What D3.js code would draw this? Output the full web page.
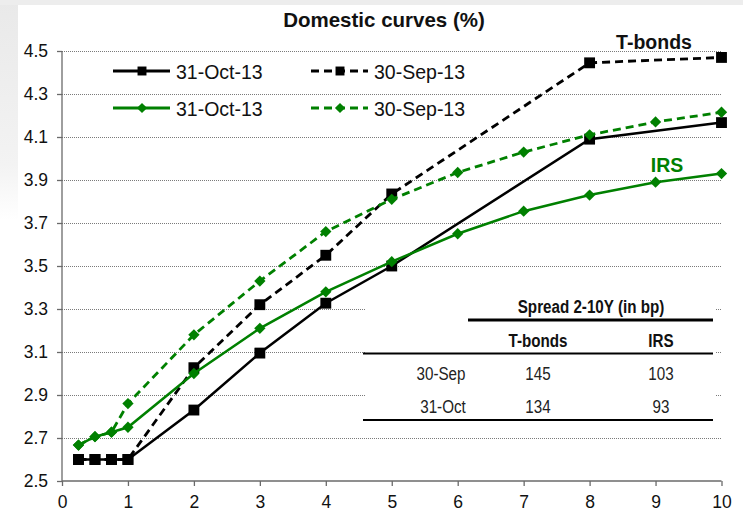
<!DOCTYPE html>
<html><head><meta charset="utf-8">
<script src="https://cdn.jsdelivr.net/npm/d3@7"></script>
<style>
html,body{margin:0;padding:0;background:#fff;}
svg{display:block;}
text{font-family:"Liberation Sans",Arial,sans-serif;}
</style></head>
<body>
<svg id="chart" width="743" height="512"></svg>
<script>
// ---- data ----
const bondMaturities = [0.25, 0.5, 0.75, 1, 2, 3, 4, 5, 8, 10];
const tbondsOct = [2.60, 2.60, 2.60, 2.60, 2.83, 3.095, 3.327, 3.50, 4.09, 4.167];
const tbondsSep = [2.60, 2.60, 2.60, 2.60, 3.027, 3.32, 3.55, 3.835, 4.445, 4.47];
const irsMaturities = [0.25, 0.5, 0.75, 1, 2, 3, 4, 5, 6, 7, 8, 9, 10];
const irsOct = [2.667, 2.706, 2.727, 2.75, 3.00, 3.21, 3.38, 3.52, 3.65, 3.755, 3.83, 3.89, 3.93];
const irsSep = [2.667, 2.706, 2.727, 2.86, 3.18, 3.43, 3.66, 3.81, 3.935, 4.03, 4.11, 4.17, 4.215];
const xTicks = [0, 1, 2, 3, 4, 5, 6, 7, 8, 9, 10];
const yTicks = [2.5, 2.7, 2.9, 3.1, 3.3, 3.5, 3.7, 3.9, 4.1, 4.3, 4.5];
const legendLabels = ["31-Oct-13", "30-Sep-13"];
const title = "Domestic curves (%)";
const tableTitle = "Spread 2-10Y (in bp)";
const tableHeaders = ["T-bonds", "IRS"];
const tableRowLabels = ["30-Sep", "31-Oct"];
const tableTbonds = [145, 134];
const tableIrs = [103, 93];

const GREEN = "#008000";
const svg = d3.select("#chart");

// background
const defs = svg.append("defs");
const lg = defs.append("linearGradient").attr("id","side").attr("x1",0).attr("y1",0).attr("x2",0).attr("y2",1);
lg.append("stop").attr("offset","0%").attr("stop-color","#e9e9e9");
lg.append("stop").attr("offset","75%").attr("stop-color","#f3f3f3");
lg.append("stop").attr("offset","100%").attr("stop-color","#ffffff");
svg.append("rect").attr("x",0).attr("y",0).attr("width",743).attr("height",512).attr("fill","#fff");
svg.append("rect").attr("x",0).attr("y",0).attr("width",18).attr("height",220).attr("fill","url(#side)");
svg.append("rect").attr("x",0).attr("y",0).attr("width",743).attr("height",5).attr("fill","#ededed");

const x = d3.scaleLinear().domain([0, 10]).range([62, 721.5]);
const y = d3.scaleLinear().domain([2.5, 4.5]).range([481, 51]);

// gridlines
svg.append("g").selectAll("line").data(yTicks.filter(d => d > 2.5)).join("line")
  .attr("x1", x(0)).attr("x2", x(10)).attr("y1", d => y(d)).attr("y2", d => y(d))
  .attr("stroke", "#7a7a7a").attr("stroke-width", 1).attr("stroke-dasharray", "1,1")
  .attr("shape-rendering","crispEdges");

// axes
const yAxis = d3.axisLeft(y).tickValues(yTicks).tickFormat(d3.format(".1f")).tickSize(5).tickPadding(9);
const gy = svg.append("g").attr("transform", `translate(${x(0)},0)`).call(yAxis);
const xAxis = d3.axisBottom(x).tickValues(xTicks).tickFormat(d3.format("d")).tickSize(5).tickPadding(10);
const gx = svg.append("g").attr("transform", `translate(0,${y(2.5)})`).call(xAxis);
[gx, gy].forEach(g => {
  g.select(".domain").attr("stroke", "#6a6a6a").attr("stroke-width", 1.3);
  g.selectAll(".tick line").attr("stroke", "#6a6a6a").attr("stroke-width", 1.3);
  g.selectAll(".tick text").attr("fill", "#111").style("font-size", "17.5px")
    .style("font-family", '"Liberation Sans", Arial, sans-serif');
});
gx.select(".domain").attr("d", `M${x(0)},0H${x(10)}`);
gy.select(".domain").attr("d", `M0,${y(2.5)}V${y(4.5)}`);

// table background
svg.append("rect").attr("x", 365).attr("y", 287).attr("width", 350).attr("height", 142).attr("fill", "#fff");

// series
const line = d3.line().x(d => x(d[0])).y(d => y(d[1]));
const series = [
  {xs: bondMaturities, ys: tbondsOct, color: "#000", dash: null, marker: "square", w: 2.5},
  {xs: bondMaturities, ys: tbondsSep, color: "#000", dash: "8,5", marker: "square", w: 2.8},
  {xs: irsMaturities, ys: irsOct, color: GREEN, dash: null, marker: "diamond", w: 2.5},
  {xs: irsMaturities, ys: irsSep, color: GREEN, dash: "8,5", marker: "diamond", w: 2.8},
];
const sqSym = d3.symbol().type(d3.symbolSquare).size(118);
const diaSym = d3.symbol().type(d3.symbolSquare).size(64);
series.forEach(s => {
  const pts = s.xs.map((v, i) => [v, s.ys[i]]);
  svg.append("path").datum(pts).attr("d", line).attr("fill", "none")
    .attr("stroke", s.color).attr("stroke-width", s.w)
    .attr("stroke-dasharray", s.dash);
  svg.append("g").selectAll("path").data(pts).join("path")
    .attr("d", s.marker === "square" ? sqSym : diaSym)
    .attr("transform", d => `translate(${x(d[0])},${y(d[1])})` + (s.marker === "diamond" ? " rotate(45)" : ""))
    .attr("fill", s.color);
});

// legend
const legendItems = [
  {lx: 113, ly: 71, color: "#000", dash: null, marker: "square", label: legendLabels[0]},
  {lx: 311, ly: 71, color: "#000", dash: "8,5", marker: "square", label: legendLabels[1]},
  {lx: 113, ly: 108, color: GREEN, dash: null, marker: "diamond", label: legendLabels[0]},
  {lx: 311, ly: 108, color: GREEN, dash: "8,5", marker: "diamond", label: legendLabels[1]},
];
const lgG = svg.append("g");
legendItems.forEach(it => {
  lgG.append("line").attr("x1", it.lx).attr("x2", it.lx + 57).attr("y1", it.ly).attr("y2", it.ly)
    .attr("stroke", it.color).attr("stroke-width", 2.8).attr("stroke-dasharray", it.dash);
  lgG.append("path")
    .attr("d", it.marker === "square" ? d3.symbol().type(d3.symbolSquare).size(80)() : d3.symbol().type(d3.symbolSquare).size(52)())
    .attr("transform", `translate(${it.lx + 29},${it.ly})` + (it.marker === "diamond" ? " rotate(45)" : ""))
    .attr("fill", it.color);
  lgG.append("text").attr("x", it.lx + 63).attr("y", it.ly + 7.5).text(it.label)
    .style("font-size", "19.5px").attr("fill", "#111");
});

// title and annotations
svg.append("text").attr("x", 384).attr("y", 27).attr("text-anchor", "middle")
  .style("font-size", "20.5px").style("font-weight", "bold").attr("fill", "#111").text(title);
svg.append("text").attr("x", 654).attr("y", 49).attr("text-anchor", "middle")
  .style("font-size", "19.5px").style("font-weight", "bold").attr("fill", "#111").text("T-bonds");
svg.append("text").attr("x", 667).attr("y", 172).attr("text-anchor", "middle")
  .style("font-size", "19.5px").style("font-weight", "bold").attr("fill", GREEN).text("IRS");

// table (condensed text via horizontal scaling)
const tg = svg.append("g");
const NARROW = 0.8;
function ntext(tx, ty, str, bold) {
  return tg.append("text").attr("transform", `translate(${tx},${ty}) scale(${NARROW},1)`)
    .attr("text-anchor", "middle").style("font-size", "19px")
    .style("font-weight", bold ? "bold" : "normal").attr("fill", bold ? "#111" : "#222").text(str);
}
ntext(591, 313, tableTitle, true);
tg.append("line").attr("x1", 468).attr("x2", 713).attr("y1", 320).attr("y2", 320).attr("stroke", "#000").attr("stroke-width", 3.2);
const colX = [538, 661];
tableHeaders.forEach((h, i) => ntext(colX[i], 347, h, true));
tg.append("line").attr("x1", 363).attr("x2", 713).attr("y1", 353.5).attr("y2", 353.5).attr("stroke", "#000").attr("stroke-width", 2.2);
const rowY = [380, 413];
tableRowLabels.forEach((r, i) => {
  ntext(441 + i * 2, rowY[i], r, false);
  ntext(colX[0], rowY[i], tableTbonds[i], false);
  ntext(colX[1], rowY[i], tableIrs[i], false);
});
tg.append("line").attr("x1", 363).attr("x2", 713).attr("y1", 420).attr("y2", 420).attr("stroke", "#000").attr("stroke-width", 2.2);
</script>
</body></html>
